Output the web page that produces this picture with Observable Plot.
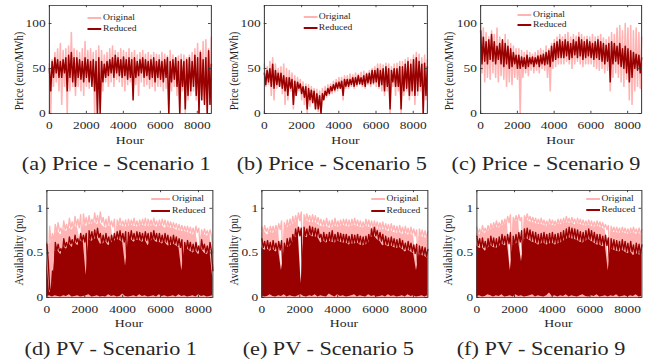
<!DOCTYPE html>
<html><head><meta charset="utf-8">
<script src="https://cdn.jsdelivr.net/npm/d3@7"></script>
<script src="https://cdn.jsdelivr.net/npm/@observablehq/plot@0.6"></script>
<style>
body{margin:0;background:#fff;}
#wrap{position:relative;width:525.6px;height:361px;transform:scaleX(1.25);transform-origin:0 0;font-family:"Liberation Serif","Times New Roman",serif;color:#262626;}
.abs{position:absolute;white-space:nowrap;line-height:1;}
</style></head><body><div id="wrap"></div>
<script>
// ---------- data ----------
const hours = [0,148,297,445,594,742,891,1039,1188,1336,1485,1633,1782,1930,2078,2227,2375,2524,2672,2821,2969,3118,3266,3415,3563,3712,3860,4009,4157,4306,4454,4602,4751,4899,5048,5196,5345,5493,5642,5790,5939,6087,6236,6384,6533,6681,6830,6978,7126,7275,7423,7572,7720,7869,8017,8166,8314,8463,8611,8760];
const xTicks = [0,2000,4000,6000,8000];
const priceTicks = [0,50,100];
const pvTicks = [0,0.5,1];
const seriesNames = ["Original","Reduced"];
const captions = ["(a) Price - Scenario 1","(b) Price - Scenario 5","(c) Price - Scenario 9","(d) PV - Scenario 1","(e) PV - Scenario 5","(f) PV - Scenario 9"];

// Price - Scenario 1 (per time bin: highest / lowest value)
const p1OrigHi = [55,60,68,72,78,70,72,75,90,72, 70,68,72,80,70,72,68,70,75,70, 65,68,72,75,70,68,72,70,68,72, 68,70,65,68,70,66,68,65,68,66, 65,68,66,64,70,65,62,64,66,65, 62,65,68,72,78,70,80,82,72,85];
const p1OrigLo = [0,30,35,25,10,30,0,25,30,20, 30,25,20,30,28,35,0,0,5,25, 35,30,35,30,38,35,30,25,32,35, 30,32,20,35,30,32,28,30,25,30, 30,25,28,0,25,30,20,0,25,0, 15,20,25,15,0,20,15,0,10,20];
const p1RedHi = [50,58,62,60,58,60,62,65,68,62, 62,60,58,62,60,58,60,58,62,58, 55,58,60,62,65,62,60,63,60,62, 60,62,58,60,62,60,58,60,62,58, 60,58,60,62,58,60,62,58,60,58, 60,62,58,65,62,68,60,62,70,55];
const p1RedLo = [25,40,45,40,40,45,25,40,35,30, 40,38,35,40,35,30,25,0,0,35, 40,42,45,40,45,42,40,42,38,40, 15,40,42,45,40,42,38,40,35,40, 38,35,40,0,35,38,30,0,30,5, 20,25,30,20,0,15,10,0,10,15];
// Price - Scenario 5
const p5OrigHi = [55,52,58,62,55,50,52,55,50,48, 45,42,40,38,35,33,32,30,28,27, 25,28,30,32,33,36,38,40,40,42, 42,44,43,45,44,46,47,45,48,50, 52,55,55,54,56,55,52,55,56,58, 58,60,62,60,65,68,66,62,65,60];
const p5OrigLo = [30,32,20,15,28,30,22,10,15,25, 5,20,25,15,10,0,8,12,5,2, 0,15,18,20,22,24,25,28,15,28, 28,30,28,30,32,30,28,32,30,32, 30,28,25,20,25,0,30,20,25,0, 20,25,15,20,10,20,25,0,15,0];
const p5RedHi = [45,48,50,55,48,45,45,42,40,40, 38,36,35,33,30,30,28,26,25,22, 20,22,25,28,30,32,34,35,36,38, 38,38,40,40,42,40,42,44,45,48, 48,50,48,50,52,50,48,50,50,52, 52,55,58,55,60,62,58,55,56,52];
const p5RedLo = [32,35,30,28,32,30,28,25,20,28, 10,20,28,22,18,5,15,12,5,5, 0,15,20,22,25,26,28,28,20,30, 30,32,30,32,33,32,30,34,33,34, 35,30,32,25,30,5,35,30,30,5, 25,28,20,25,20,25,30,0,20,5];
// Price - Scenario 9
const p9OrigHi = [100,95,90,85,92,88,95,85,80,88, 82,78,75,72,72,70,68,70,68,66, 68,70,72,70,75,72,78,82,85,88, 85,88,90,85,88,86,90,88,85,86, 85,88,85,86,88,84,82,85,90,88, 95,98,92,100,95,98,92,95,90,85];
const p9OrigLo = [45,35,40,38,45,40,35,42,38,30, 35,32,40,38,0,40,45,42,48,45, 48,45,50,48,40,25,50,52,55,55, 55,58,55,50,55,58,55,52,55,55, 55,52,50,48,50,45,48,25,40,45, 40,35,30,38,15,10,25,30,28,25];
const p9RedHi = [92,85,80,82,88,80,75,78,82,78, 75,72,68,65,65,63,62,65,62,63, 62,64,65,66,68,70,75,78,80,82, 80,82,80,78,82,80,85,82,80,82, 80,78,80,82,80,78,76,78,80,78, 75,78,72,75,72,70,68,66,65,62];
const p9RedLo = [55,58,55,60,58,55,60,55,52,55, 50,52,55,50,50,52,50,52,55,52, 55,52,55,54,55,52,58,60,62,62, 62,64,60,62,65,62,64,60,62,64, 62,60,62,60,58,55,58,35,55,58, 55,52,50,45,35,40,50,48,45,42];

// PV (per time bin: highest daily peak / lowest daily peak / night floor of the reduced series)
const v1OrigMax = [0.62,0.80,0.72,0.82,0.84,0.78,0.86,0.82,0.89,0.85, 0.91,0.88,0.93,0.94,0.90,0.92,0.88,0.95,0.92,0.96, 0.90,0.88,0.91,0.86,0.88,0.87,0.89,0.86,0.87,0.88, 0.87,0.89,0.86,0.87,0.88,0.89,0.88,0.87,0.89,0.86, 0.87,0.88,0.87,0.86,0.85,0.84,0.83,0.82,0.81,0.80, 0.80,0.79,0.78,0.80,0.78,0.76,0.77,0.75,0.76,0.50];
const v1OrigMin = [0.40,0.60,0.62,0.72,0.74,0.70,0.76,0.74,0.78,0.76, 0.80,0.78,0.60,0.82,0.80,0.82,0.82,0.84,0.82,0.84, 0.80,0.78,0.80,0.79,0.55,0.80,0.81,0.80,0.79,0.80, 0.81,0.80,0.79,0.80,0.81,0.80,0.80,0.80,0.81,0.79, 0.80,0.81,0.78,0.79,0.78,0.78,0.76,0.75,0.74,0.74, 0.73,0.72,0.70,0.73,0.55,0.70,0.71,0.69,0.70,0.40];
const v1RedMax = [0.60,0.10,0.30,0.62,0.60,0.55,0.66,0.62,0.68,0.65, 0.70,0.66,0.72,0.70,0.72,0.75,0.74,0.76,0.78,0.72, 0.70,0.72,0.68,0.70,0.72,0.74,0.75,0.72,0.74,0.73, 0.75,0.72,0.74,0.73,0.72,0.74,0.72,0.73,0.75,0.72, 0.72,0.70,0.72,0.70,0.68,0.70,0.68,0.66,0.65,0.62, 0.64,0.62,0.60,0.62,0.58,0.65,0.60,0.58,0.62,0.30];
const v1RedMin = [0.40,0.05,0.10,0.52,0.52,0.48,0.57,0.54,0.60,0.56, 0.62,0.58,0.63,0.62,0.25,0.65,0.63,0.65,0.67,0.60, 0.60,0.62,0.58,0.61,0.63,0.65,0.64,0.62,0.35,0.63, 0.65,0.62,0.64,0.64,0.62,0.64,0.58,0.63,0.65,0.62, 0.62,0.60,0.62,0.58,0.58,0.60,0.58,0.56,0.30,0.52, 0.54,0.52,0.50,0.52,0.48,0.54,0.50,0.48,0.52,0.22];
const v1RedLo = [0.01,0.02,0.005,0.02,0.01,0.005,0.02,0.01,0.03,0.005, 0.01,0.02,0.005,0.01,0.02,0.03,0.005,0.01,0.02,0.005, 0.01,0.005,0.03,0.01,0.02,0.005,0.01,0.04,0.01,0.005, 0.01,0.02,0.005,0.03,0.01,0.02,0.005,0.01,0.02,0.005, 0.03,0.01,0.02,0.005,0.01,0.02,0.005,0.03,0.01,0.02, 0.005,0.01,0.02,0.005,0.03,0.01,0.02,0.005,0.01,0.02];
const v5OrigMax = [0.79,0.81,0.78,0.80,0.80,0.81,0.83,0.86,0.84,0.87, 0.88,0.91,0.92,0.95,0.96,0.93,0.94,0.92,0.93,0.92, 0.90,0.88,0.87,0.89,0.86,0.87,0.89,0.86,0.87,0.88, 0.88,0.87,0.88,0.89,0.87,0.86,0.85,0.88,0.87,0.86, 0.86,0.85,0.84,0.85,0.83,0.82,0.83,0.81,0.80,0.81, 0.79,0.80,0.78,0.79,0.77,0.76,0.77,0.76,0.75,0.74];
const v5OrigMin = [0.72,0.74,0.70,0.73,0.72,0.74,0.76,0.30,0.76,0.78, 0.80,0.82,0.84,0.86,0.15,0.85,0.86,0.84,0.84,0.84, 0.82,0.80,0.79,0.80,0.78,0.78,0.80,0.79,0.80,0.81, 0.80,0.79,0.80,0.81,0.80,0.79,0.78,0.80,0.79,0.78, 0.78,0.77,0.76,0.76,0.76,0.74,0.75,0.73,0.72,0.73, 0.71,0.72,0.70,0.71,0.69,0.40,0.69,0.68,0.67,0.66];
const v5RedMax = [0.66,0.63,0.64,0.62,0.64,0.61,0.63,0.64,0.61,0.66, 0.67,0.71,0.77,0.79,0.78,0.79,0.77,0.80,0.79,0.78, 0.77,0.71,0.73,0.71,0.73,0.75,0.71,0.73,0.72,0.71, 0.71,0.69,0.71,0.70,0.71,0.69,0.68,0.69,0.71,0.77, 0.79,0.75,0.73,0.71,0.69,0.67,0.68,0.66,0.65,0.66, 0.64,0.61,0.63,0.61,0.59,0.60,0.58,0.57,0.56,0.54];
const v5RedMin = [0.56,0.53,0.54,0.52,0.54,0.51,0.53,0.30,0.51,0.56, 0.57,0.61,0.67,0.69,0.15,0.69,0.67,0.70,0.68,0.68, 0.67,0.61,0.63,0.61,0.63,0.62,0.61,0.63,0.62,0.61, 0.61,0.59,0.60,0.60,0.61,0.59,0.58,0.59,0.61,0.67, 0.69,0.65,0.63,0.58,0.59,0.57,0.58,0.56,0.55,0.56, 0.54,0.51,0.53,0.51,0.49,0.30,0.48,0.47,0.46,0.44];
const v5RedLo = [0.02,0.005,0.01,0.03,0.01,0.005,0.02,0.01,0.03,0.005, 0.02,0.01,0.005,0.02,0.03,0.01,0.005,0.02,0.01,0.03, 0.005,0.02,0.01,0.005,0.04,0.02,0.005,0.03,0.01,0.02, 0.005,0.01,0.02,0.03,0.005,0.02,0.01,0.005,0.03,0.01, 0.02,0.005,0.01,0.02,0.005,0.03,0.01,0.02,0.005,0.01, 0.02,0.005,0.03,0.01,0.02,0.005,0.01,0.02,0.005,0.02];
const v9OrigMax = [0.79,0.77,0.81,0.78,0.81,0.83,0.84,0.86,0.84,0.87, 0.88,0.91,0.93,0.90,0.92,0.93,0.90,0.92,0.94,0.91, 0.90,0.89,0.88,0.89,0.87,0.86,0.88,0.87,0.86,0.88, 0.88,0.89,0.91,0.89,0.90,0.88,0.89,0.88,0.87,0.86, 0.87,0.86,0.85,0.86,0.85,0.84,0.82,0.81,0.80,0.79, 0.79,0.78,0.79,0.78,0.77,0.78,0.79,0.77,0.78,0.76];
const v9OrigMin = [0.72,0.70,0.74,0.72,0.74,0.76,0.78,0.79,0.78,0.80, 0.82,0.84,0.30,0.84,0.85,0.86,0.40,0.86,0.87,0.85, 0.84,0.83,0.82,0.82,0.81,0.80,0.82,0.81,0.80,0.82, 0.82,0.83,0.84,0.83,0.84,0.82,0.83,0.82,0.81,0.80, 0.81,0.80,0.79,0.80,0.79,0.78,0.76,0.45,0.74,0.73, 0.73,0.72,0.73,0.72,0.71,0.72,0.73,0.71,0.72,0.70];
const v9RedMax = [0.69,0.66,0.67,0.63,0.66,0.69,0.67,0.66,0.68,0.71, 0.69,0.71,0.73,0.69,0.71,0.73,0.75,0.77,0.78,0.76, 0.74,0.73,0.71,0.72,0.73,0.71,0.72,0.73,0.71,0.72, 0.73,0.75,0.77,0.79,0.78,0.77,0.76,0.74,0.73,0.75, 0.77,0.75,0.73,0.71,0.71,0.69,0.70,0.67,0.66,0.65, 0.64,0.63,0.65,0.63,0.61,0.63,0.59,0.61,0.60,0.59];
const v9RedMin = [0.58,0.55,0.56,0.52,0.55,0.58,0.56,0.55,0.57,0.60, 0.58,0.60,0.30,0.58,0.60,0.62,0.40,0.65,0.66,0.64, 0.62,0.61,0.59,0.60,0.61,0.59,0.60,0.61,0.59,0.60, 0.61,0.63,0.65,0.67,0.66,0.65,0.64,0.62,0.61,0.63, 0.65,0.63,0.61,0.59,0.59,0.57,0.58,0.30,0.54,0.53, 0.52,0.51,0.53,0.51,0.49,0.51,0.47,0.49,0.48,0.47];
const v9RedLo = [0.01,0.02,0.005,0.01,0.03,0.02,0.005,0.02,0.01,0.03, 0.005,0.01,0.02,0.005,0.03,0.01,0.02,0.005,0.01,0.02, 0.03,0.005,0.02,0.01,0.005,0.02,0.05,0.01,0.02,0.005, 0.02,0.01,0.03,0.005,0.02,0.01,0.005,0.02,0.03,0.01, 0.005,0.02,0.01,0.03,0.005,0.01,0.02,0.005,0.02,0.01, 0.03,0.005,0.01,0.02,0.005,0.02,0.01,0.03,0.005,0.01];

// ---------- layout (unstretched px; whole figure stretched by 1.25 horizontally) ----------
const PINK = "#ffb3b3", DARK = "#990000", AX = "#333";
const FONT = '"Liberation Serif", "Times New Roman", serif';
const panels = [
  {kind:"price",L:39.2,R:168.8,T:5,B:113,dom:[0,120],yt:priceTicks,s:[p1OrigHi,p1OrigLo,p1RedHi,p1RedLo],ylab:"Price (euro/MWh)",ylx:14.6,yly:70.8,cap:captions[0],cx:93,cy:165,lgX:69.6,lgT:82.4,lgY:[18.3,29.3]},
  {kind:"price",L:211.2,R:341.6,T:5,B:113,dom:[0,120],yt:priceTicks,s:[p5OrigHi,p5OrigLo,p5RedHi,p5RedLo],ylab:"Price (euro/MWh)",ylx:187.2,yly:70.8,cap:captions[1],cx:265.4,cy:165,lgX:242.7,lgT:255,lgY:[16.7,27.7]},
  {kind:"price",L:384,R:512.8,T:5,B:113,dom:[0,120],yt:priceTicks,s:[p9OrigHi,p9OrigLo,p9RedHi,p9RedLo],ylab:"Price (euro/MWh)",ylx:359,yly:70.8,cap:captions[2],cx:436.8,cy:165,lgX:413.6,lgT:426.4,lgY:[14.7,25.3]},
  {kind:"pv",L:36.8,R:169.6,T:190,B:297,dom:[0,1.2],yt:pvTicks,s:[v1OrigMax,v1OrigMin,v1RedMax,v1RedMin,v1RedLo],ylab:"Availability (pu)",ylx:14.6,yly:250,cap:captions[3],cx:88.6,cy:350,lgX:121.3,lgT:137.6,lgY:[199.3,211]},
  {kind:"pv",L:208.8,R:341.6,T:190,B:297,dom:[0,1.2],yt:pvTicks,s:[v5OrigMax,v5OrigMin,v5RedMax,v5RedMin,v5RedLo],ylab:"Availability (pu)",ylx:186.6,yly:250,cap:captions[4],cx:262.6,cy:350,lgX:296.5,lgT:309.3,lgY:[199.3,211]},
  {kind:"pv",L:380.8,R:512.8,T:190,B:297,dom:[0,1.2],yt:pvTicks,s:[v9OrigMax,v9OrigMin,v9RedMax,v9RedMin,v9RedLo],ylab:"Availability (pu)",ylx:358.4,yly:250,cap:captions[5],cx:432.8,cy:350,lgX:468.8,lgT:481.3,lgY:[199,210]}
];
const mL = 34, mR = 4, mT = 4, mB = 22, TICK = 2.2;
const wrap = document.getElementById("wrap");

// zig-zag path: the highest value of each bin at its start, the lowest half-way through it
function zigzag(hi, lo) {
  const pts = [];
  hours.forEach((h, i) => {
    pts.push({h, v: hi[i]});
    if (i < hours.length - 1) pts.push({h: (h + hours[i + 1]) / 2, v: lo[i]});
  });
  return pts;
}

function addDiv(txt, css) {
  const d = document.createElement("div");
  d.className = "abs";
  d.textContent = txt;
  Object.assign(d.style, css);
  wrap.appendChild(d);
  return d;
}

for (const p of panels) {
  const fw = p.R - p.L, fh = p.B - p.T;
  const dataMarks = [];
  if (p.kind === "price") {
    const [oHi, oLo, rHi, rLo] = p.s;
    dataMarks.push(
      Plot.lineY(zigzag(oHi, oLo), {x: "h", y: "v", stroke: PINK, strokeWidth: 1.25, curve: "linear"}),
      Plot.lineY(zigzag(rHi, rLo), {x: "h", y: "v", stroke: DARK, strokeWidth: 1.2, curve: "linear"})
    );
  } else {
    const [oMax, oMin, rMax, rMin, rLo] = p.s;
    const rows = hours.map((h, i) => ({h, oMin: oMin[i], rMin: rMin[i], rLo: rLo[i]}));
    dataMarks.push(
      Plot.areaY(rows, {x: "h", y1: 0, y2: "oMin", fill: PINK, curve: "linear"}),
      Plot.lineY(zigzag(oMax, oMin), {x: "h", y: "v", stroke: PINK, strokeWidth: 1.1}),
      Plot.areaY(rows, {x: "h", y1: "rLo", y2: "rMin", fill: DARK, curve: "linear"}),
      Plot.lineY(zigzag(rMax, rMin), {x: "h", y: "v", stroke: DARK, strokeWidth: 1.1})
    );
  }
  const svg = Plot.plot({
    width: fw + mL + mR, height: fh + mT + mB,
    marginLeft: mL, marginRight: mR, marginTop: mT, marginBottom: mB,
    x: {domain: [0, 8760]},
    y: {domain: p.dom},
    style: {fontFamily: FONT, fontSize: "10.7px", color: "#262626", background: "transparent", overflow: "visible"},
    marks: [
      ...dataMarks,
      Plot.frame({stroke: AX, strokeWidth: 0.8}),
      Plot.tickX(xTicks, {x: d => d, insetTop: fh - TICK, stroke: AX, strokeWidth: 0.8}),
      Plot.tickX(xTicks, {x: d => d, insetBottom: fh - TICK, stroke: AX, strokeWidth: 0.8}),
      Plot.tickY(p.yt, {y: d => d, insetRight: fw - TICK, stroke: AX, strokeWidth: 0.8}),
      Plot.tickY(p.yt, {y: d => d, insetLeft: fw - TICK, stroke: AX, strokeWidth: 0.8}),
      Plot.axisX(xTicks, {tickSize: 0, tickPadding: 8, tickFormat: d => String(d), fontSize: 10.7, fontFamily: FONT, label: null}),
      Plot.axisY(p.yt, {tickSize: 0, tickPadding: 3, tickFormat: d => String(d), fontSize: 10.7, fontFamily: FONT, label: null})
    ]
  });
  svg.style.fontFamily = FONT;
  const holder = document.createElement("div");
  holder.className = "abs";
  Object.assign(holder.style, {left: (p.L - mL) + "px", top: (p.T - mT) + "px", width: (fw + mL + mR) + "px"});
  holder.appendChild(svg);
  wrap.appendChild(holder);

  addDiv("Hour", {left: (p.L + fw / 2) + "px", top: (p.T > 100 ? 323 : 139.5) + "px", fontSize: "11px", transform: "translate(-50%,-50%)"});
  addDiv(p.ylab, {left: p.ylx + "px", top: p.yly + "px", fontSize: "10.7px", transform: "translate(-50%,-50%) rotate(-90deg)"});
  addDiv(p.cap, {left: p.cx + "px", top: p.cy + "px", fontSize: "17.8px", transform: "translate(-50%,-50%)"});

  [PINK, DARK].forEach((c, k) => {
    const s = document.createElement("div");
    s.className = "abs";
    Object.assign(s.style, {left: p.lgX + "px", top: (p.lgY[k] - 0.9) + "px", width: (p.lgT - p.lgX - 1.2) + "px", height: "1.8px", background: c});
    wrap.appendChild(s);
    addDiv(seriesNames[k], {left: p.lgT + "px", top: p.lgY[k] + "px", fontSize: "7.7px", transform: "translateY(-50%)"});
  });
}
</script></body></html>
